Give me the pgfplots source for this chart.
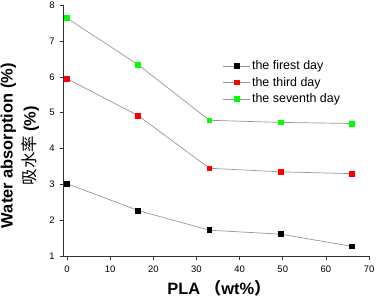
\documentclass[border=0pt]{standalone}
\usepackage{pgfplots}
\pgfplotsset{compat=1.18}
\usepackage{fontspec}
\setmainfont{Liberation Sans}
\newfontfamily\cjk{Noto Sans CJK SC}
\definecolor{lgray}{RGB}{150,150,150}
\definecolor{mgreen}{RGB}{0,255,0}
\definecolor{axgray}{RGB}{50,50,50}
\begin{document}
\begin{tikzpicture}
\path[use as bounding box] (-67bp,-42bp) rectangle (311bp,256bp);
\begin{axis}[
  at={(0,0)}, anchor=origin,
  scale only axis, width=305.5bp, height=250.7bp,
  xmin=-0.8, xmax=70, ymin=1, ymax=8,
  axis x line*=bottom, axis y line*=left,
  axis line style={axgray, line width=0.8pt},
  tick style={axgray, line width=0.8pt},
  tick align=outside, major tick length=4bp,
  xtick={0,10,...,70}, ytick={1,...,8},
  minor tick num=0,
  tick label style={font=\fontsize{9.5}{10}\selectfont},
  xticklabel style={yshift=-2bp},
  yticklabel style={xshift=-1.5bp},
  /pgf/number format/assume math mode=true,
  xlabel={\bfseries PLA {\cjk （}wt\%{\cjk ）}},
  xlabel style={font=\fontsize{16.5}{19}\selectfont, at={(axis description cs:0.509,0)}, anchor=center, yshift=-32.5bp, inner sep=0pt},
  ylabel={\bfseries Water absorption (\%)\\{\cjk\mdseries 吸水率} \bfseries(\%)},
  ylabel style={font=\fontsize{16.5}{23}\selectfont, at={(axis description cs:-0.143,0.44)}, anchor=center, align=center, inner sep=0pt},
  legend style={at={(axis description cs:0.521,0.786)}, anchor=north west, draw=none, fill=none,
    font=\fontsize{12.5}{15}\selectfont, row sep=3bp, inner sep=0pt,
    nodes={inner sep=1.5bp}},
  legend cell align=left,
  legend image code/.code={
    \draw[mark repeat=2, mark phase=2, #1] plot coordinates {(0bp,0bp) (13.5bp,0bp) (27bp,0bp)};
  },
  every axis plot/.append style={lgray, line width=0.7pt, mark=square*, mark size=2.4bp},
]
\addplot[lgray, mark options={fill=black, draw=black}] coordinates {(0,3.02) (16.5,2.27) (33,1.72) (49.5,1.61) (66,1.27)};
\addlegendentry{the firest day}
\addplot[lgray, mark options={fill=red, draw=red}] coordinates {(0,5.95) (16.5,4.92) (33,3.45) (49.5,3.35) (66,3.30)};
\addlegendentry{the third day}
\addplot[lgray, mark options={fill=mgreen, draw=mgreen}] coordinates {(0,7.64) (16.5,6.34) (33,4.79) (49.5,4.73) (66,4.70)};
\addlegendentry{the seventh day}
\end{axis}
\end{tikzpicture}
\end{document}
